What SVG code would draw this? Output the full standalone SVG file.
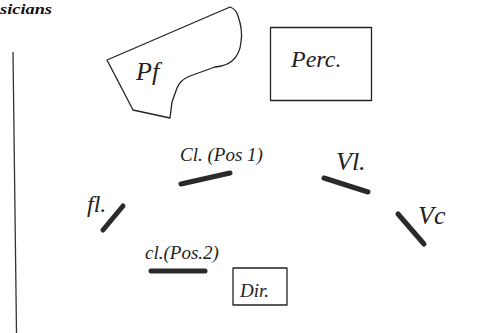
<svg xmlns="http://www.w3.org/2000/svg" width="497" height="333" viewBox="0 0 497 333">
<style>
.hand{font-family:"Liberation Serif","DejaVu Serif",serif;font-style:italic;fill:#222;}
.ln{fill:none;stroke:#222;stroke-width:1.3;stroke-linejoin:round;stroke-linecap:round;}
.pos{stroke:#2a2a2a;stroke-width:5;stroke-linecap:round;}
</style>
<rect width="497" height="333" fill="#fff"/>
<text x="0" y="14" font-family="Liberation Serif, serif" font-style="italic" font-weight="bold" font-size="15" textLength="52" lengthAdjust="spacingAndGlyphs" fill="#111">sicians</text>
<line x1="13" y1="52" x2="16.5" y2="333" stroke="#333" stroke-width="1.3"/>
<g id="piano">
<path class="ln" d="M107,60 L230,7 Q236,9 238,16 Q243,30 241,42 Q240,54 232,61 Q226,66 215,67 L190,76 Q180,80 177,88 L172,102 L170,118 L133,110 Z"/>
<text class="hand" x="136" y="80" font-size="26">Pf</text>
</g>
<g id="perc">
<rect class="ln" x="270.5" y="27.5" width="101" height="73"/>
<text class="hand" x="291" y="67" font-size="24">Perc.</text>
</g>
<g id="cl1">
<text class="hand" x="180" y="161" font-size="19">Cl. (Pos 1)</text>
<line class="pos" x1="181" y1="184" x2="230" y2="173"/>
</g>
<g id="vl">
<text class="hand" x="336" y="170" font-size="26">Vl.</text>
<line class="pos" x1="324" y1="178" x2="368" y2="192"/>
</g>
<g id="fl">
<text class="hand" x="87" y="212" font-size="24">fl.</text>
<line class="pos" x1="103" y1="230" x2="123" y2="206"/>
</g>
<g id="vc">
<text class="hand" x="418" y="224" font-size="26">Vc</text>
<line class="pos" x1="398" y1="214" x2="424" y2="244"/>
</g>
<g id="cl2">
<text class="hand" x="145" y="259" font-size="19">cl.(Pos.2)</text>
<line class="pos" x1="151" y1="271" x2="205" y2="271"/>
</g>
<g id="dir">
<rect class="ln" x="233" y="268" width="54" height="37"/>
<text class="hand" x="240" y="297" font-size="19">Dir.</text>
</g>
</svg>
